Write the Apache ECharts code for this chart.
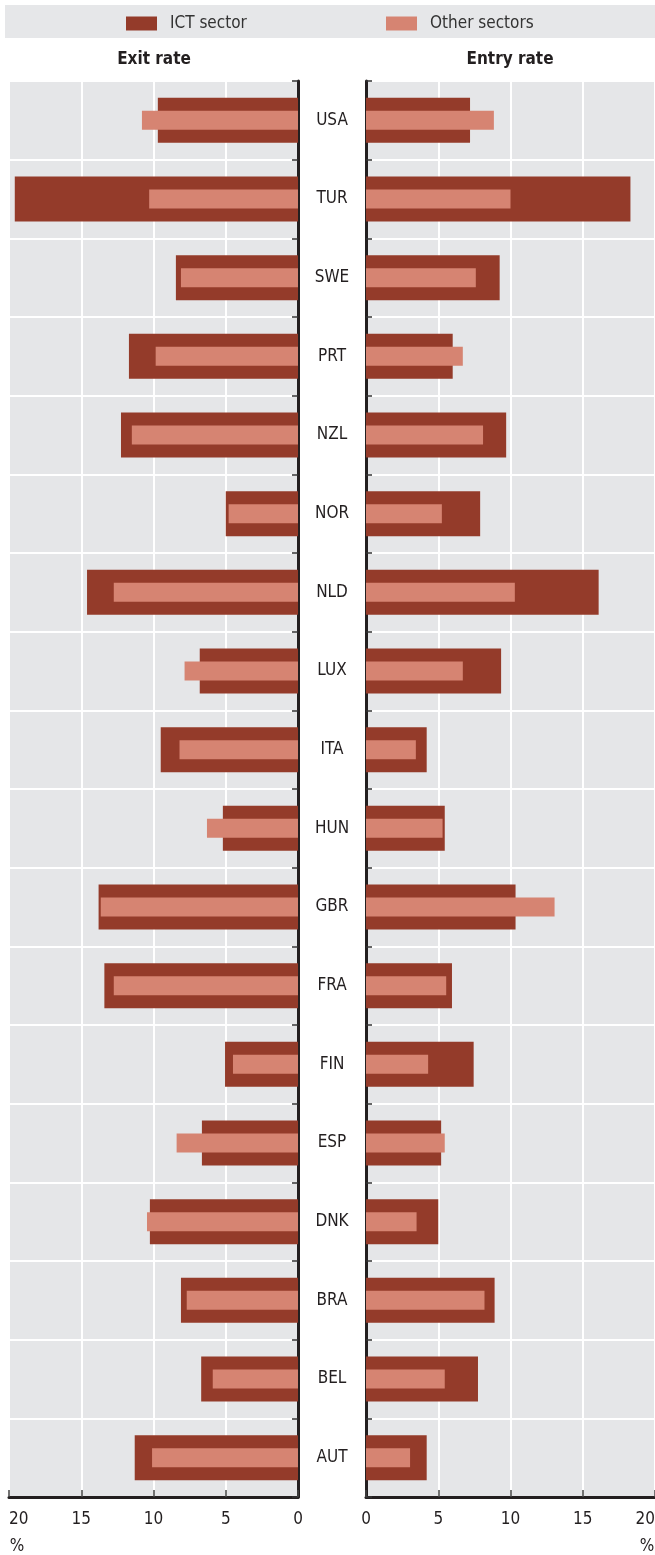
<!DOCTYPE html>
<html>
<head>
<meta charset="utf-8">
<title>ICT sector entry and exit rates</title>
<script src="https://cdn.jsdelivr.net/npm/echarts@6/dist/echarts.min.js"></script>
<style>
  html, body { margin: 0; padding: 0; background: #fff; }
  #chart { width: 655px; height: 1555px; }
</style>
</head>
<body>
<div id="chart"></div>
<script>
// countries, top to bottom
const categories = ['USA', 'TUR', 'SWE', 'PRT', 'NZL', 'NOR', 'NLD', 'LUX', 'ITA',
  'HUN', 'GBR', 'FRA', 'FIN', 'ESP', 'DNK', 'BRA', 'BEL', 'AUT']

// exit rate, %
const exitIct = [9.7, 19.6, 8.45, 11.7, 12.25, 5.0, 14.6, 6.8, 9.5,
  5.2, 13.8, 13.4, 5.05, 6.65, 10.25, 8.1, 6.7, 11.3]
const exitOther = [10.8, 10.3, 8.1, 9.85, 11.5, 4.8, 12.75, 7.85, 8.2,
  6.3, 13.65, 12.75, 4.5, 8.4, 10.45, 7.7, 5.9, 10.1]

// entry rate, %
const entryIct = [7.2, 18.3, 9.25, 6.0, 9.7, 7.9, 16.1, 9.35, 4.2,
  5.45, 10.35, 5.95, 7.45, 5.2, 5.0, 8.9, 7.75, 4.2]
const entryOther = [8.85, 10.0, 7.6, 6.7, 8.1, 5.25, 10.3, 6.7, 3.45,
  5.3, 13.05, 5.55, 4.3, 5.45, 3.5, 8.2, 5.45, 3.05]

const axisMin = 0
const axisMax = 20
const axisStep = 5

const ICT_COLOR = '#943B2A'
const OTHER_COLOR = '#D68472'
const BG = '#E5E6E8'
const INK = '#231F20'
const FONT = "'Liberation Sans Narrow', 'DejaVu Sans Condensed', 'Roboto Condensed', sans-serif"

const chart = echarts.init(document.getElementById('chart'))

function valueAxis(gridIndex, inverse, maxAlign) {
  return {
    type: 'value',
    gridIndex: gridIndex,
    inverse: inverse,
    min: axisMin,
    max: axisMax,
    interval: axisStep,
    axisLine: { show: true, lineStyle: { color: INK, width: 3 } },
    axisTick: { show: true, inside: true, length: 7, lineStyle: { color: '#444', width: 1.5 } },
    axisLabel: { fontSize: 17, color: INK, margin: 14, fontFamily: FONT, alignMaxLabel: maxAlign },
    splitLine: { show: true, lineStyle: { color: '#fff', width: 2 } }
  }
}

function catAxis(gridIndex, position, showLabel) {
  return {
    type: 'category',
    gridIndex: gridIndex,
    data: categories,
    inverse: true,
    position: position,
    axisLine: { show: true, lineStyle: { color: INK, width: 3 } },
    axisTick: { show: true, inside: true, length: 6, lineStyle: { color: '#333', width: 1.5 } },
    axisLabel: {
      show: showLabel,
      align: 'center',
      margin: 34,
      fontSize: 17,
      color: INK,
      fontFamily: FONT
    },
    splitLine: { show: true, lineStyle: { color: '#fff', width: 2 } }
  }
}

// second category axis per grid so the thin bar sits centred on the thick one
function hiddenAxis(gridIndex) {
  return { type: 'category', gridIndex: gridIndex, data: categories, inverse: true, show: false }
}

function bar(name, xi, yi, data, width, color) {
  return {
    type: 'bar',
    name: name,
    xAxisIndex: xi,
    yAxisIndex: yi,
    data: data,
    barWidth: width,
    itemStyle: { color: color },
    emphasis: { disabled: true }
  }
}

const legendBase = {
  top: 15,
  padding: 0,
  z: 10,
  icon: 'rect',
  itemWidth: 31,
  itemHeight: 14,
  selectedMode: false,
  textStyle: { fontSize: 17, color: '#333', fontFamily: FONT, padding: [0, 0, 0, 8] }
}

chart.setOption({
  animation: false,
  textStyle: { fontFamily: FONT },
  graphic: [
    { type: 'rect', z: -10, shape: { x: 5, y: 5, width: 650, height: 33 }, style: { fill: '#E6E7E9' } },
    { type: 'text', x: 154, y: 60, style: { text: 'Exit rate', font: 'bold 17px ' + FONT, fill: INK, align: 'center', verticalAlign: 'middle' } },
    { type: 'text', x: 510, y: 60, style: { text: 'Entry rate', font: 'bold 17px ' + FONT, fill: INK, align: 'center', verticalAlign: 'middle' } },
    { type: 'text', x: 17, y: 1547, style: { text: '%', font: '17px ' + FONT, fill: INK, align: 'center', verticalAlign: 'middle' } },
    { type: 'text', x: 647, y: 1547, style: { text: '%', font: '17px ' + FONT, fill: INK, align: 'center', verticalAlign: 'middle' } }
  ],
  legend: [
    Object.assign({}, legendBase, { left: 126, data: ['ICT sector'] }),
    Object.assign({}, legendBase, { left: 386, data: ['Other sectors'] })
  ],
  grid: [
    { left: 9, top: 81, width: 289, height: 1416, show: true, backgroundColor: BG, borderWidth: 0, outerBoundsMode: 'none' },
    { left: 366, top: 81, width: 289, height: 1416, show: true, backgroundColor: BG, borderWidth: 0, outerBoundsMode: 'none' }
  ],
  xAxis: [
    valueAxis(0, true, 'left'),
    valueAxis(1, false, 'right')
  ],
  yAxis: [
    catAxis(0, 'right', true),
    hiddenAxis(0),
    catAxis(1, 'left', false),
    hiddenAxis(1)
  ],
  series: [
    bar('ICT sector', 0, 0, exitIct, 45, ICT_COLOR),
    bar('Other sectors', 0, 1, exitOther, 19, OTHER_COLOR),
    bar('ICT sector', 1, 2, entryIct, 45, ICT_COLOR),
    bar('Other sectors', 1, 3, entryOther, 19, OTHER_COLOR)
  ]
})
</script>
</body>
</html>
